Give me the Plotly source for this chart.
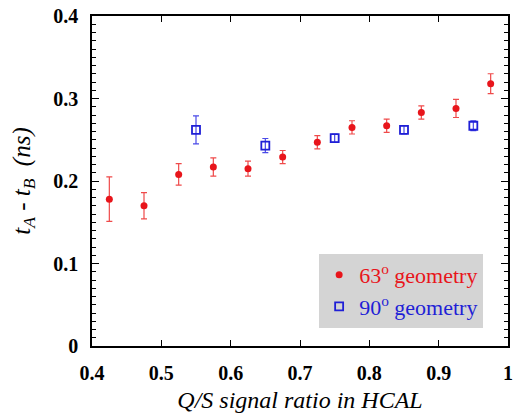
import plotly.graph_objects as go

# 63 degree geometry
x63 = [0.425, 0.475, 0.525, 0.575, 0.625, 0.675, 0.725, 0.775, 0.825, 0.875, 0.925, 0.975]
y63 = [0.178, 0.170, 0.208, 0.217, 0.215, 0.229, 0.247, 0.265, 0.267, 0.283, 0.288, 0.318]
e63 = [0.027, 0.016, 0.013, 0.011, 0.009, 0.008, 0.008, 0.008, 0.008, 0.008, 0.011, 0.012]

# 90 degree geometry
x90 = [0.55, 0.65, 0.75, 0.85, 0.95]
y90 = [0.262, 0.243, 0.252, 0.262, 0.267]
e90 = [0.017, 0.0085, 0.005, 0.005, 0.006]

xticks = [0.4, 0.5, 0.6, 0.7, 0.8, 0.9, 1.0]
xticklabels = ["0.4", "0.5", "0.6", "0.7", "0.8", "0.9", "1"]
yticks = [0, 0.1, 0.2, 0.3, 0.4]
yticklabels = ["0", "0.1", "0.2", "0.3", "0.4"]
yhalfticks = [0.05, 0.15, 0.25, 0.35]

RED = "#e8151b"
BLUE = "#1f1fd6"
SERIF = "Liberation Serif"

fig = go.Figure()
fig.add_trace(go.Scatter(
    x=x63, y=y63, mode="markers",
    name="<span style='color:%s'>63<sup>o</sup> geometry</span>" % RED,
    marker=dict(symbol="circle", size=7, color=RED),
    error_y=dict(type="data", array=e63, color="#ef4a4a", thickness=1.2, width=3),
))
fig.add_trace(go.Scatter(
    x=x90, y=y90, mode="markers",
    name="<span style='color:%s'>90<sup>o</sup> geometry</span>" % BLUE,
    marker=dict(symbol="square-open", size=8, color=BLUE, line=dict(width=1.8, color=BLUE)),
    error_y=dict(type="data", array=e90, color="#4a4ae8", thickness=1.2, width=3),
))

axis_common = dict(
    showgrid=False, zeroline=False, showline=True, linecolor="black", linewidth=1.5,
    mirror="allticks", ticks="inside", tickcolor="black",
    tickfont=dict(family=SERIF, size=20, color="black", weight="bold"),
    ticklabeloverflow="allow",
)

fig.update_xaxes(
    range=[0.4, 1.0], tickvals=xticks, ticktext=xticklabels, ticklen=6, tickwidth=1.3,
    ticklabelstandoff=8,
    title=dict(text="<i>Q/S signal ratio in HCAL</i>", font=dict(family=SERIF, size=24, color="black"), standoff=8),
    **axis_common,
)
fig.update_yaxes(
    range=[0, 0.4], tickvals=yticks, ticktext=yticklabels, ticklen=7, tickwidth=1.3,
    ticklabelstandoff=8,
    minor=dict(dtick=0.01, ticks="inside", ticklen=4, tickcolor="black", tickwidth=1),
    title=dict(text="<i>t<sub>A</sub> - t<sub>B</sub>  (ns)</i>", font=dict(family=SERIF, size=25, color="black"), standoff=16),
    **axis_common,
)

fig.update_layout(
    width=514, height=419,
    margin=dict(l=92, r=1, t=16, b=73),
    paper_bgcolor="white", plot_bgcolor="white",
    showlegend=True,
    yaxis2=dict(
        overlaying="y", matches="y", range=[0, 0.4], side="left",
        tickvals=yhalfticks, showticklabels=False, ticks="inside", ticklen=7, tickwidth=1.3,
        tickcolor="black", mirror="allticks", showline=True, linecolor="black", linewidth=1.5,
        showgrid=False, zeroline=False,
    ),
    legend=dict(
        x=0.546, y=0.279, xanchor="left", yanchor="top",
        bgcolor="#d4d4d4", borderwidth=0,
        font=dict(family=SERIF, size=22),
        itemwidth=30, tracegroupgap=2,
    ),
)

fig.write_html("out.html")
